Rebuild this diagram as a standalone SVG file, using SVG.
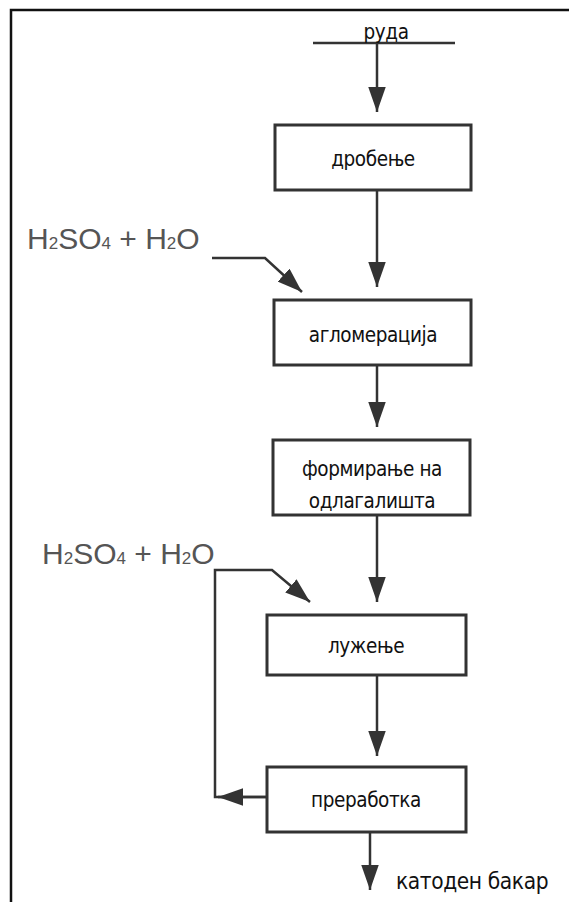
<svg xmlns="http://www.w3.org/2000/svg" width="569" height="902" viewBox="0 0 569 902">
<style>
.box{fill:#fff;stroke:#333;stroke-width:3}
.lbl{font-family:"DejaVu Sans Condensed","DejaVu Sans","Noto Sans",sans-serif;font-size:20.5px;letter-spacing:-0.4px;fill:#111;text-anchor:middle}
.big{font-size:22.5px;text-anchor:start}
.chem{font-family:"Liberation Sans",Arial,sans-serif;font-size:30px;fill:#555}
.sub{font-size:17px}
.ln{fill:none;stroke:#333;stroke-width:2.5}
</style>
<defs>
<marker id="ah" viewBox="0 0 20 14" refX="20" refY="7" markerWidth="10" markerHeight="7" markerUnits="strokeWidth" orient="auto">
<path d="M0,0 L20,7 L0,14 z" fill="#333"/>
</marker>
</defs>
<rect width="569" height="902" fill="#fff"/>
<g id="frame">
<path d="M11,902 L11,10 L569,10" fill="none" stroke="#111" stroke-width="2.5"/>
</g>
<g id="connectors">
<line class="ln" x1="313" y1="43" x2="455" y2="43"/>
<line class="ln" x1="377" y1="43" x2="377" y2="112" marker-end="url(#ah)"/>
<line class="ln" x1="377" y1="190" x2="377" y2="287" marker-end="url(#ah)"/>
<line class="ln" x1="377" y1="365" x2="377" y2="427" marker-end="url(#ah)"/>
<line class="ln" x1="377" y1="515" x2="377" y2="602" marker-end="url(#ah)"/>
<line class="ln" x1="377" y1="675" x2="377" y2="756" marker-end="url(#ah)"/>
<line class="ln" x1="370" y1="832" x2="370" y2="890" marker-end="url(#ah)"/>
<polyline class="ln" points="212,258 265,258 302,292" marker-end="url(#ah)"/>
<polyline class="ln" points="267,797 215,797 215,570 272,570 310,602" marker-end="url(#ah)"/>
<line class="ln" x1="267" y1="797" x2="218" y2="797" marker-end="url(#ah)"/>
</g>
<g id="ruda"><text class="lbl" x="386" y="39">руда</text></g>
<g id="drobenje"><rect class="box" x="275" y="125" width="196" height="65"/><text class="lbl" x="373" y="166">дробење</text></g>
<g id="aglomeracija"><rect class="box" x="274" y="300" width="197" height="65"/><text class="lbl" x="373" y="342">агломерација</text></g>
<g id="formiranje"><rect class="box" x="273" y="440" width="197" height="75"/><text class="lbl" x="372" y="476">формирање на</text><text class="lbl" x="372" y="508">одлагалишта</text></g>
<g id="luzenje"><rect class="box" x="267" y="615" width="199" height="60"/><text class="lbl" x="366" y="653">лужење</text></g>
<g id="prerabotka"><rect class="box" x="267" y="767" width="199" height="65"/><text class="lbl" x="366" y="807">преработка</text></g>
<g id="chem1"><text class="chem" x="27" y="249">H<tspan class="sub">2</tspan>SO<tspan class="sub">4</tspan> + H<tspan class="sub">2</tspan>O</text></g>
<g id="chem2"><text class="chem" x="42" y="564">H<tspan class="sub">2</tspan>SO<tspan class="sub">4</tspan> + H<tspan class="sub">2</tspan>O</text></g>
<g id="katoden"><text class="lbl big" x="396" y="889">катоден бакар</text></g>
</svg>
